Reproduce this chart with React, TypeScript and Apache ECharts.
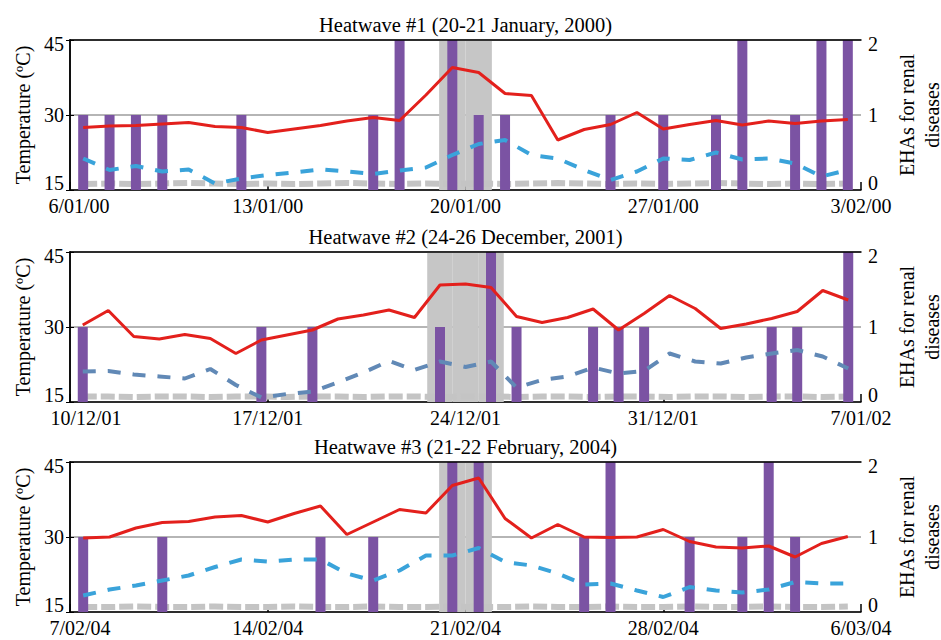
import React, { useEffect, useRef } from "react";
import * as echarts from "echarts";

// ---------- Panel 1: Heatwave #1 (20-21 January, 2000) ----------
const cats1 = ["6/01","7/01","8/01","9/01","10/01","11/01","12/01","13/01","14/01","15/01","16/01","17/01","18/01","19/01","20/01","21/01","22/01","23/01","24/01","25/01","26/01","27/01","28/01","29/01","30/01","31/01","1/02","2/02","3/02","4/02"];
const ticks1 = ["6/01/00","13/01/00","20/01/00","27/01/00","3/02/00"];
const tmax1 = [27.5,27.8,27.9,28.2,28.5,27.7,27.5,26.5,27.2,27.9,28.8,29.5,28.9,34.0,39.5,38.5,34.3,33.9,25.0,27.1,28.1,30.5,27.2,28.1,28.9,28.0,28.8,28.3,28.8,29.1];
const tmin1 = [21.3,19.0,19.8,18.7,19.1,16.3,17.3,18.0,18.5,19.1,18.7,18.2,18.9,19.5,22.0,24.2,25.0,22.0,21.3,19.0,17.0,18.7,21.3,21.0,22.5,21.1,21.3,20.3,17.7,19.0];
const base1 = [16.2,16.3,16.2,16.3,16.4,16.3,16.2,16.3,16.2,16.3,16.4,16.3,16.2,16.3,16.2,16.3,16.2,16.3,16.4,16.3,16.2,16.3,16.2,16.3,16.4,16.3,16.2,16.3,16.2,16.3];
const eha1 = [1,1,1,1,0,0,1,0,0,0,0,1,2,0,2,1,1,0,0,0,1,0,1,0,1,2,0,1,2,2];
const hw1 = [0,0,0,0,0,0,0,0,0,0,0,0,0,0,1,1,0,0,0,0,0,0,0,0,0,0,0,0,0,0];

// ---------- Panel 2: Heatwave #2 (24-26 December, 2001) ----------
const cats2 = ["10/12","11/12","12/12","13/12","14/12","15/12","16/12","17/12","18/12","19/12","20/12","21/12","22/12","23/12","24/12","25/12","26/12","27/12","28/12","29/12","30/12","31/12","1/01","2/01","3/01","4/01","5/01","6/01","7/01","8/01","9/01"];
const ticks2 = ["10/12/01","17/12/01","24/12/01","31/12/01","7/01/02"];
const tmax2 = [30.4,33.3,28.1,27.6,28.5,27.7,24.7,27.4,28.4,29.4,31.6,32.4,33.4,31.9,38.4,38.6,37.9,32.1,30.9,31.9,33.6,29.4,32.7,36.3,33.7,29.7,30.6,31.7,33.1,37.3,35.4];
const tmin2 = [21.1,21.2,20.5,20.1,19.7,21.6,18.4,15.9,16.6,17.1,18.9,20.9,23.2,21.4,23.1,22.0,23.1,17.9,19.4,20.1,21.9,20.7,21.2,24.7,23.1,22.7,23.9,24.7,25.4,24.1,21.7];
const base2 = [16.1,16.1,16.0,16.1,16.1,16.0,16.1,16.1,16.0,16.1,16.1,16.0,16.1,16.1,16.0,16.1,16.1,16.0,16.1,16.1,16.0,16.1,16.1,16.0,16.1,16.1,16.0,16.1,16.1,16.0,16.1];
const eha2 = [1,0,0,0,0,0,0,1,0,1,0,0,0,0,1,0,2,1,0,0,1,1,1,0,0,0,0,1,1,0,2];
const hw2 = [0,0,0,0,0,0,0,0,0,0,0,0,0,0,1,1,1,0,0,0,0,0,0,0,0,0,0,0,0,0,0];

// ---------- Panel 3: Heatwave #3 (21-22 February, 2004) ----------
const cats3 = ["7/02","8/02","9/02","10/02","11/02","12/02","13/02","14/02","15/02","16/02","17/02","18/02","19/02","20/02","21/02","22/02","23/02","24/02","25/02","26/02","27/02","28/02","29/02","1/03","2/03","3/03","4/03","5/03","6/03","7/03"];
const ticks3 = ["7/02/04","14/02/04","21/02/04","28/02/04","6/03/04"];
const tmax3 = [29.8,30.0,31.8,32.9,33.1,34.0,34.3,33.0,34.7,36.2,30.5,33.0,35.5,34.8,40.3,41.8,33.7,29.8,32.5,30.0,29.9,30.0,31.5,29.1,28.0,27.8,28.2,26.0,28.7,30.1];
const tmin3 = [18.3,19.5,20.3,21.3,22.3,24.0,25.5,25.1,25.5,25.5,22.7,21.3,23.3,26.3,26.3,27.8,25.0,24.3,22.7,20.5,20.7,19.3,18.0,20.0,19.3,18.9,19.5,21.0,20.7,20.7];
const base3 = [16.0,16.0,16.1,16.0,16.0,16.1,16.0,16.0,16.1,16.0,16.0,16.1,16.0,16.0,16.1,16.0,16.0,16.1,16.0,16.0,16.1,16.0,16.0,16.1,16.0,16.0,16.1,16.0,16.0,16.1];
const eha3 = [1,0,0,1,0,0,0,0,0,1,0,1,0,0,2,2,0,0,0,1,2,0,0,1,0,1,2,1,0,0];
const hw3 = [0,0,0,0,0,0,0,0,0,0,0,0,0,0,1,1,0,0,0,0,0,0,0,0,0,0,0,0,0,0];

const titles = [
  "Heatwave #1 (20-21 January, 2000)",
  "Heatwave #2 (24-26 December, 2001)",
  "Heatwave #3 (21-22 February, 2004)",
];

const FONT = "'Liberation Serif', 'Times New Roman', serif";
const GRID_LEFT = 70;
const GRID_RIGHT = 80;
const GRID_H = 150;
const TOPS = [40, 252, 462];
const FIRST_LABEL_PAD = [18, 32, 20];

function buildOption() {
  const panels = [
    { cats: cats1, ticks: ticks1, tmax: tmax1, tmin: tmin1, base: base1, eha: eha1, hw: hw1, blue: "#3aa3da" },
    { cats: cats2, ticks: ticks2, tmax: tmax2, tmin: tmin2, base: base2, eha: eha2, hw: hw2, blue: "#6189b6" },
    { cats: cats3, ticks: ticks3, tmax: tmax3, tmin: tmin3, base: base3, eha: eha3, hw: hw3, blue: "#3aa3da" },
  ];
  const grid: any[] = [];
  const xAxis: any[] = [];
  const yAxis: any[] = [];
  const series: any[] = [];
  const title: any[] = [];
  const txt = { fontFamily: FONT, fontSize: 20, color: "#000" };
  const yLabel = (min: number, max: number, margin: number) => ({
    ...txt, margin,
    formatter: (v: number) => (v === min ? "{lo|" + v + "}" : v === max ? "{hi|" + v + "}" : String(v)),
    rich: {
      lo: { ...txt, padding: [0, 0, 14, 0] },
      hi: { ...txt, padding: [8, 0, 0, 0] },
    },
  });

  panels.forEach((p, g) => {
    grid.push({
      left: GRID_LEFT, right: GRID_RIGHT, top: TOPS[g], height: GRID_H,
      containLabel: false, outerBoundsMode: "none",
    });
    title.push({
      text: titles[g],
      left: GRID_LEFT + (941 - GRID_LEFT - GRID_RIGHT) / 2,
      top: TOPS[g] - 26,
      textAlign: "center",
      padding: 0,
      textStyle: { ...txt, fontSize: 20.5, fontWeight: "normal" },
    });
    const xb = xAxis.length;
    xAxis.push({ type: "category", gridIndex: g, data: p.cats, boundaryGap: true, show: false });
    xAxis.push({ type: "category", gridIndex: g, data: p.cats, boundaryGap: true, show: false });
    xAxis.push({
      type: "value", gridIndex: g, min: 0, max: 28, interval: 7, position: "bottom",
      axisLine: { show: true, lineStyle: { color: "#000", width: 1.5 } },
      axisTick: { show: true, inside: true, length: 8, lineStyle: { color: "#000", width: 1.5 } },
      splitLine: { show: false },
      axisLabel: {
        show: true, margin: 6, ...txt, lineHeight: 20,
        showMinLabel: true, showMaxLabel: true, hideOverlap: false,
        formatter: (v: number) => {
          const i = Math.round(v / 7);
          return i === 0 ? "{f|" + p.ticks[0] + "}" : (p.ticks[i] ?? "");
        },
        rich: { f: { ...txt, lineHeight: 20, padding: [0, 0, 0, FIRST_LABEL_PAD[g]] } },
      },
    });
    xAxis.push({
      type: "value", gridIndex: g, min: 0, max: 1, position: "top", z: 10,
      axisLine: { show: true, lineStyle: { color: "#000", width: 1.5 } },
      axisTick: { show: false }, axisLabel: { show: false }, splitLine: { show: false },
    });
    const yb = yAxis.length;
    yAxis.push({
      type: "value", gridIndex: g, min: 15, max: 45, interval: 15, position: "left",
      name: "Temperature (ºC)", nameLocation: "middle", nameGap: 37, nameRotate: 90,
      nameTextStyle: txt,
      axisLine: { show: true, lineStyle: { color: "#000", width: 1.5 } },
      axisTick: { show: true, length: 4, lineStyle: { color: "#000" } },
      axisLabel: yLabel(15, 45, 6),
      splitLine: { show: true, lineStyle: { color: "#b5b5b5", width: 2 } },
    });
    yAxis.push({
      type: "value", gridIndex: g, min: 0, max: 2, interval: 1, position: "right",
      name: "EHAs for renal\ndiseases", nameLocation: "middle", nameGap: 33, nameRotate: 90,
      nameTextStyle: { ...txt, lineHeight: 25 },
      axisLine: { show: true, lineStyle: { color: "#000", width: 1.5 } },
      axisTick: { show: true, length: 4, lineStyle: { color: "#000" } },
      axisLabel: yLabel(0, 2, 7),
      splitLine: { show: false },
    });

    series.push({
      name: "Heatwave", type: "bar", xAxisIndex: xb + 1, yAxisIndex: yb + 1,
      data: p.hw.map((f) => (f ? 2 : 0)), barWidth: "100%", z: 1,
      itemStyle: { color: "#c6c6c6" }, silent: true,
    });
    series.push({
      name: "EHAs", type: "bar", xAxisIndex: xb, yAxisIndex: yb + 1,
      data: p.eha, barWidth: 10, z: 3, itemStyle: { color: "#7b53a3" },
    });
    series.push({
      name: "Base", type: "line", xAxisIndex: xb, yAxisIndex: yb, data: p.base,
      symbol: "none", z: 2, lineStyle: { color: "#c4c4c4", width: 6, type: [14, 4] },
    });
    series.push({
      name: "Tmin", type: "line", xAxisIndex: xb, yAxisIndex: yb, data: p.tmin,
      symbol: "none", z: 4, lineStyle: { color: p.blue, width: 4, type: [13, 12] },
    });
    series.push({
      name: "Tmax", type: "line", xAxisIndex: xb, yAxisIndex: yb, data: p.tmax,
      symbol: "none", z: 5, lineStyle: { color: "#e3201c", width: 3 },
    });
  });

  return { animation: false, backgroundColor: "#fff", title, grid, xAxis, yAxis, series };
}

export default function App() {
  const ref = useRef<HTMLDivElement>(null);
  useEffect(() => {
    if (!ref.current) return;
    const chart = echarts.init(ref.current, undefined, { renderer: "svg" });
    chart.setOption(buildOption() as any);
    return () => chart.dispose();
  }, []);
  return <div ref={ref} style={{ position: "fixed", left: 0, top: 0, width: 941, height: 640 }} />;
}
